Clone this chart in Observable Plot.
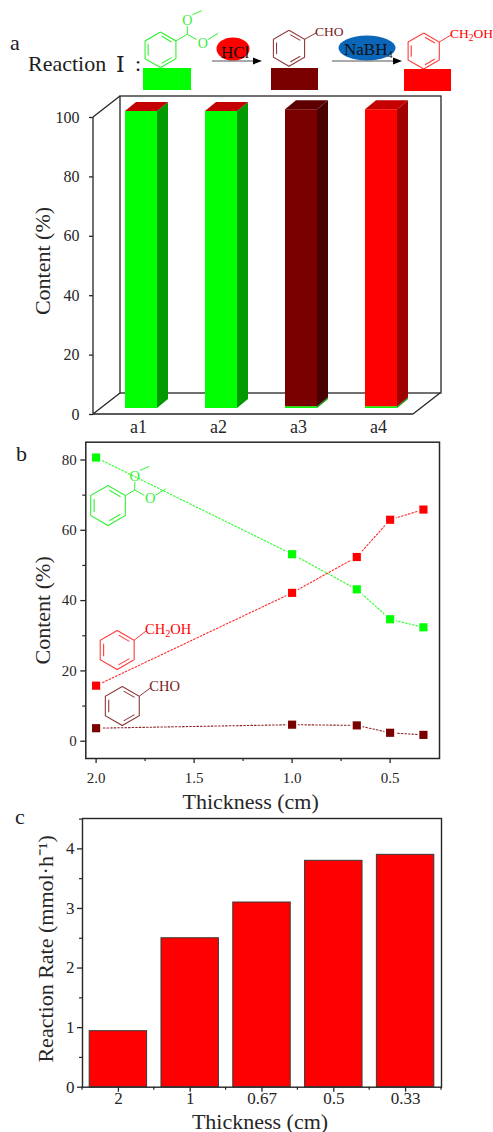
<!DOCTYPE html>
<html><head><meta charset="utf-8">
<script src="https://cdn.jsdelivr.net/npm/d3@7"></script>
<script src="https://cdn.jsdelivr.net/npm/@observablehq/plot@0.6"></script>
<style>
html,body{margin:0;padding:0;background:#fff;width:493px;height:1132px;overflow:hidden}
#page{position:relative;width:493px;height:1132px}
#page>svg,#page>figure{position:absolute;left:0;margin:0}
</style></head><body><div id="page"></div>
<script>
// ---------- data ----------
const samples = ["a1","a2","a3","a4"];
const shareAcetal   = [100,100,0.6,0.6];
const shareAldehyde = [0,0,100,0];
const shareAlcohol  = [0,0,0,100];

const thickness = [2,1,0.67,0.5,0.33];
const acetal   = [80.7,53.2,43.2,34.7,32.4];
const aldehyde = [3.7,4.7,4.5,2.4,1.8];
const alcohol  = [15.8,42.2,52.4,63,65.9];

const thicknessLabels = ["2","1","0.67","0.5","0.33"];
const rate = [0.94,2.5,3.1,3.8,3.9];

const GREEN="#00ff00", MAROON="#7a0000", RED="#ff0000", INK="#262626";
const serif="'Liberation Serif', serif";
const page=document.getElementById("page");
const place=(el,top)=>{el.style.top=top+"px";el.style.left="0px";page.appendChild(el);};

// ---------- panel a ----------
const segs=[];
samples.forEach((s,i)=>{
  let base=0;
  [[shareAcetal,GREEN,"#009a00"],[shareAldehyde,MAROON,"#4a0000"],[shareAlcohol,RED,"#a00000"]].forEach(([arr,fill,side])=>{
    if(arr[i]>0){
      const top=Math.min(100.6,base+arr[i]);
      segs.push({s,y1:base,y2:top,fill,side});
      base=top;
    }
  });
});
const tops=samples.map((s,i)=>{
  const last=segs.filter(d=>d.s===s).at(-1);
  return {s,y:last.y2,fill:last.fill===MAROON?"#5e0000":"#c40000"};
});
const lift=[8,-6], bevel=[11,-9], depth=[27,-21];
const panelA=Plot.plot({
  width:493,height:350,marginLeft:93,marginRight:80,marginTop:27,marginBottom:26,
  style:{fontFamily:serif,fontSize:"16px",color:INK,background:"transparent",overflow:"visible"},
  x:{type:"band",domain:samples,paddingInner:0.6,paddingOuter:0.3,round:false,label:null},
  y:{domain:[0,100],label:null},
  marks:[
    (index,{x,y})=>{
      const g=d3.create("svg:g").attr("fill","none").attr("stroke",INK).attr("stroke-width",1.3);
      const L=93,R=413,b=y(0),t=y(100);
      g.append("rect").attr("x",L+depth[0]).attr("y",t+depth[1]).attr("width",R-L+1).attr("height",b-t);
      g.append("path").attr("d",`M${L},${t}V${b}H${R}M${L},${t}l${depth[0]},${depth[1]}M${L},${b}l${depth[0]},${depth[1]}M${R},${b}l${depth[0]},${depth[1]}`);
      return g.node();
    },
    (index,{x,y})=>{
      const g=d3.create("svg:g");
      const w=x.bandwidth();
      for(const d of segs){
        const x1=x(d.s)+w+lift[0];
        g.append("path").attr("fill",d.side).attr("d",
          `M${x1},${y(d.y2)+lift[1]}l${bevel[0]},${bevel[1]}V${y(d.y1)+lift[1]+bevel[1]}l${-bevel[0]},${-bevel[1]}Z`);
      }
      for(const d of tops){
        const x0=x(d.s)+lift[0], yy=y(d.y)+lift[1];
        g.append("path").attr("fill",d.fill).attr("d",
          `M${x0},${yy}l${bevel[0]},${bevel[1]}h${w}l${-bevel[0]},${-bevel[1]}Z`);
      }
      return g.node();
    },
    Plot.rectY(segs,{x:"s",y1:"y1",y2:"y2",fill:"fill",dx:lift[0],dy:lift[1],inset:0}),
    Plot.axisY({ticks:[0,20,40,60,80,100],tickSize:4,tickPadding:10,label:null,stroke:INK,strokeWidth:1.3}),
    Plot.axisX({tickSize:0,tickPadding:6,fontSize:18,label:null,dx:5}),
    Plot.text(["Content (%)"],{frameAnchor:"left",textAnchor:"middle",lineAnchor:"middle",rotate:-90,dx:-51,dy:-5,fontSize:22,fill:INK})
  ]
});
place(panelA,90);

// ---------- panel b ----------
const rows=[];
[[acetal,GREEN],[aldehyde,MAROON],[alcohol,RED]].forEach(([arr,c])=>
  thickness.forEach((t,i)=>rows.push({t,v:arr[i],c})));
const lineOf=c=>rows.filter(d=>d.c===c);
const panelB=Plot.plot({
  width:493,height:372,marginLeft:85.3,marginRight:54,marginTop:1.7,marginBottom:54,
  style:{fontFamily:serif,fontSize:"15px",color:INK,background:"transparent",overflow:"visible"},
  x:{domain:[2.0526,0.248],label:null},
  y:{domain:[-4.92,85.06],label:null},
  marks:[
    Plot.frame({stroke:INK,strokeWidth:1.5}),
    ...[GREEN,MAROON,RED].map(c=>Plot.line(lineOf(c),{x:"t",y:"v",stroke:c,strokeWidth:1.1,strokeDasharray:"1.6 2",strokeOpacity:0.85})),
    Plot.dot(rows,{x:"t",y:"v",symbol:"square",r:6.5,fill:"white"}),
    Plot.dot(rows,{x:"t",y:"v",symbol:"square",r:4.6,fill:"c"}),
    Plot.axisY({ticks:[0,20,40,60,80],tickSize:5,tickPadding:4,tickFormat:d3.format("d"),label:null,stroke:INK,strokeWidth:1.3}),
    Plot.axisY({ticks:[10,30,50,70],tickSize:3,tickFormat:()=>"",label:null,stroke:INK,strokeWidth:1.2}),
    Plot.axisX({ticks:[2,1.5,1,0.5],tickSize:5,tickPadding:9,tickFormat:d3.format(".1f"),label:null,stroke:INK,strokeWidth:1.3}),
    Plot.axisX({ticks:[1.75,1.25,0.75],tickSize:3,tickFormat:()=>"",label:null,stroke:INK,strokeWidth:1.2}),
    Plot.text(["Content (%)"],{frameAnchor:"left",textAnchor:"middle",lineAnchor:"middle",rotate:-90,dx:-43,dy:10,fontSize:22,fill:INK}),
    Plot.text(["Thickness (cm)"],{frameAnchor:"bottom",textAnchor:"middle",lineAnchor:"middle",dx:-12,dy:43,fontSize:22,fill:INK})
  ]
});
place(panelB,440);

// ---------- panel c ----------
const bars=thicknessLabels.map((k,i)=>({k,v:rate[i]}));
const panelC=Plot.plot({
  width:493,height:320,marginLeft:82,marginRight:52,marginTop:6,marginBottom:45.3,
  style:{fontFamily:serif,fontSize:"17px",color:INK,background:"transparent",overflow:"visible"},
  x:{type:"band",domain:thicknessLabels,paddingInner:0.2,paddingOuter:0.1,round:false,label:null},
  y:{domain:[0,4.51],label:null},
  marks:[
    Plot.barY(bars,{x:"k",y:"v",fill:RED,stroke:"#3a3a3a",strokeWidth:1}),
    Plot.frame({stroke:INK,strokeWidth:1.4}),
    Plot.axisY({ticks:[0,1,2,3,4],tickSize:5,tickPadding:3,tickFormat:d3.format("d"),label:null,stroke:INK,strokeWidth:1.3}),
    Plot.axisY({ticks:[0.5,1.5,2.5,3.5,4.5],tickSize:3,tickFormat:()=>"",label:null,stroke:INK,strokeWidth:1.2}),
    Plot.axisX({tickSize:5,tickPadding:0,label:null,stroke:INK,strokeWidth:1.3}),
    (index,{x,y})=>{
      const g=d3.create("svg:g").attr("stroke",INK).attr("stroke-width",1.2);
      const st=x.step(), dom=x.domain();
      const edges=dom.map(d=>x(d)-st*0.1).concat(x(dom.at(-1))+x.bandwidth()+st*0.1);
      edges.forEach(e=>g.append("line").attr("x1",e).attr("x2",e).attr("y1",y(0)).attr("y2",y(0)+3));
      return g.node();
    },
    Plot.text(["Reaction Rate (mmol·h⁻¹)"],{frameAnchor:"left",textAnchor:"middle",lineAnchor:"middle",rotate:-90,dx:-37,dy:-4,fontSize:22,fill:INK}),
    Plot.text(["Thickness (cm)"],{frameAnchor:"bottom",textAnchor:"middle",lineAnchor:"middle",dx:-2,dy:35,fontSize:22,fill:INK})
  ]
});
place(panelC,812);

// ---------- annotations: panel letters, reaction scheme, molecule sketches ----------
const ov=d3.create("svg").attr("width",493).attr("height",1132).style("top","0px").style("pointer-events","none")
  .attr("font-family",serif);
const txt=(x,y,s,size,fill,anchor)=>ov.append("text").attr("x",x).attr("y",y).attr("font-size",size)
  .attr("fill",fill||"#1c1c1c").attr("text-anchor",anchor||"start").text(s);
const ln=(pts,c,w)=>ov.append("path").attr("fill","none").attr("stroke",c).attr("stroke-width",w||1)
  .attr("d","M"+pts.map(p=>p.join(",")).join("L"));
function ring(cx,cy,r,c){
  const v=d3.range(6).map(i=>{const a=Math.PI/3*i-Math.PI/2;return [cx+r*Math.cos(a),cy+r*Math.sin(a)];});
  ln([...v,v[0]],c,1.1);
  const q=.8;
  [[0,1],[2,3],[4,5]].forEach(([a,b])=>{
    const A=v[a],B=v[b],f=p=>[cx+(p[0]-cx)*q,cy+(p[1]-cy)*q];
    const pa=f(A),pb=f(B);
    ln([[pa[0]+(pb[0]-pa[0])*.1,pa[1]+(pb[1]-pa[1])*.1],[pb[0]-(pb[0]-pa[0])*.1,pb[1]-(pb[1]-pa[1])*.1]],c,1.1);
  });
  return v;
}
const LG="#35f035", LM="#8e3a3a", LR="#ff3b3b";
function acetalGlyph(cx,cy,r,fs){
  ring(cx,cy,r,LG);
  const s=1.03;
  const P=(dx,dy)=>[cx+dx*s,cy+dy*s];
  ln([[cx+r*.866,cy-r/2],P(26,-15),P(26,-23)],LG);
  ln([P(26,-15),P(35,-10)],LG);
  ov.append("text").attr("x",P(26,0)[0]).attr("y",P(0,-24)[1]).attr("font-size",fs).attr("fill",LG).attr("text-anchor","middle").text("O");
  ov.append("text").attr("x",P(41,0)[0]).attr("y",P(0,-2)[1]).attr("font-size",fs).attr("fill",LG).attr("text-anchor","middle").text("O");
  ln([P(31,-34),P(40,-38)],LG);
  ln([P(46,-10),P(56,-16)],LG);
}
function labelled(cx,cy,r,c,tc,x,y,fs,parts){
  ring(cx,cy,r,c);
  ln([[cx+r*.866,cy-r/2],[x+1,y-3]],c);
  const t=ov.append("text").attr("x",x).attr("y",y).attr("font-size",fs).attr("fill",tc);
  parts.forEach(([s,sub])=>{
    const ts=t.append("tspan").text(s);
    if(sub) ts.attr("font-size",fs*.7).attr("dy",3); else if(t.selectAll("tspan").size()>1) ts.attr("dy",-3);
  });
}
// letters and heading
txt(10,50,"a",22); txt(16,461,"b",22); txt(15,824,"c",22);
txt(28,71,"Reaction",22);
ov.append("text").attr("x",116).attr("y",72).attr("font-size",22).attr("fill","#1c1c1c").attr("font-family","'DejaVu Serif','Liberation Serif',serif").text("Ⅰ");
txt(135,71,":",22);
// scheme
acetalGlyph(160.5,49.8,17.8,14);
labelled(289,48.3,18,LM,"#7a1a1a",315,36,13.5,[["CHO"]]);
labelled(423.7,51,18,LR,RED,450,38,13.5,[["CH"],["2",1],["OH"]]);
[[143,68,48,22,GREEN],[271,68,47,22,MAROON],[404,69,47,22,RED]].forEach(([x,y,w,h,f])=>
  ov.append("rect").attr("x",x).attr("y",y).attr("width",w).attr("height",h).attr("fill",f));
ov.append("ellipse").attr("cx",233).attr("cy",49).attr("rx",16.5).attr("ry",11.5).attr("fill","#f00");
ov.append("ellipse").attr("cx",367).attr("cy",48).attr("rx",28.5).attr("ry",12.5).attr("fill","#0a66b8");
txt(221,58,"HCl",17,"#111");
const nb=txt(344,55,"NaBH",17,"#111"); nb.append("tspan").attr("font-size",10).attr("dy",3).text("4");
[[212,262],[332,402]].forEach(([a,b])=>{
  ln([[a,61],[b-6,61]],"#555",1.2);
  ov.append("path").attr("d",`M${b},61l-9,-3.5v7Z`).attr("fill","#000");
});
// panel b molecules
acetalGlyph(108,505.5,20,14.5);
labelled(117.2,650,19.6,LR,RED,145,634,14.5,[["CH"],["2",1],["OH"]]);
labelled(122.3,706,19.6,LM,"#7a1a1a",149.3,691,14.5,[["CHO"]]);
page.appendChild(ov.node());
</script></body></html>
